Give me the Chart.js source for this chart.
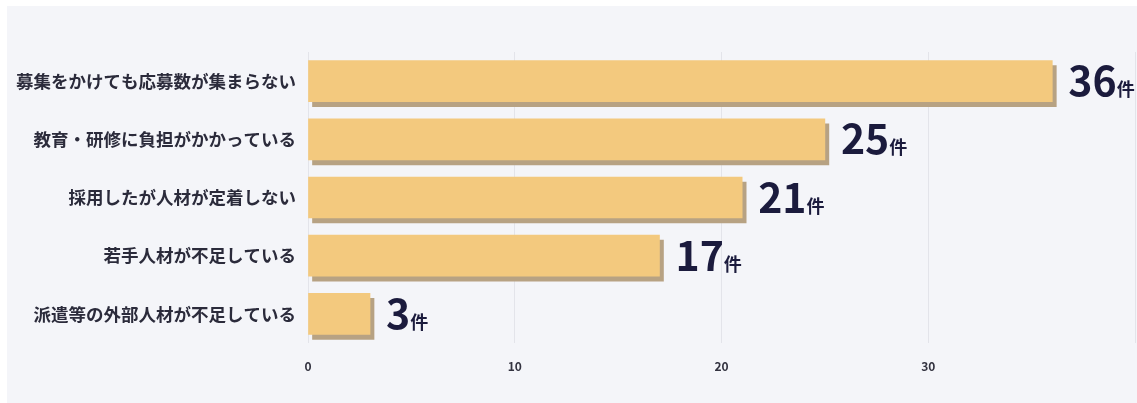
<!DOCTYPE html>
<html>
<head>
<meta charset="utf-8">
<script src="https://cdn.jsdelivr.net/npm/chart.js@4/dist/chart.umd.min.js"></script>
<style>
  html, body { margin: 0; padding: 0; background: #ffffff; }
  #wrap { position: absolute; left: 0; top: 0; width: 1137px; height: 403px; }
  #bg { position: absolute; left: 7px; top: 6px; width: 1130px; height: 397px; background: #f4f5f9; }
  canvas { position: absolute; left: 0; top: 0; }
</style>
</head>
<body>
<div id="wrap">
  <div id="bg"></div>
  <canvas id="c" width="1137" height="403"></canvas>
</div>
<script>
const categories = [
  "募集をかけても応募数が集まらない",
  "教育・研修に負担がかかっている",
  "採用したが人材が定着しない",
  "若手人材が不足している",
  "派遣等の外部人材が不足している"
];
const counts = [36, 25, 21, 17, 3];
const unitLabel = "件";
const xTicks = [0, 10, 20, 30, 40];

const JP = '"Noto Sans CJK JP", "Noto Sans", sans-serif';

const shadowPlugin = {
  id: 'barShadow',
  beforeDatasetDraw(chart) {
    const ctx = chart.ctx;
    ctx.save();
    ctx.shadowColor = '#b7a283';
    ctx.shadowOffsetX = 4;
    ctx.shadowOffsetY = 5;
    ctx.shadowBlur = 0;
  },
  afterDatasetDraw(chart) {
    chart.ctx.restore();
  }
};

const valueLabelPlugin = {
  id: 'valueLabels',
  afterDatasetsDraw(chart) {
    const ctx = chart.ctx;
    const meta = chart.getDatasetMeta(0);
    ctx.save();
    ctx.fillStyle = '#1b1b3d';
    ctx.textBaseline = 'alphabetic';
    ctx.textAlign = 'left';
    meta.data.forEach((bar, i) => {
      const txt = String(counts[i]);
      const x = bar.x + 16;
      const y = bar.y + 15;
      ctx.font = 'bold 41px ' + JP;
      ctx.fillText(txt, x, y);
      const w = ctx.measureText(txt).width;
      ctx.font = 'bold 18px ' + JP;
      ctx.fillText(unitLabel, x + w, y);
    });
    ctx.restore();
  }
};

new Chart(document.getElementById('c'), {
  type: 'bar',
  data: {
    labels: categories,
    datasets: [{
      data: counts,
      backgroundColor: '#f3c97e',
      borderWidth: 0,
      barThickness: 41
    }]
  },
  options: {
    indexAxis: 'y',
    responsive: false,
    animation: false,
    layout: { padding: { top: 52, right: 2, left: 0, bottom: 0 } },
    plugins: {
      legend: { display: false },
      tooltip: { enabled: false }
    },
    scales: {
      x: {
        min: 0,
        max: 40,
        afterBuildTicks(scale) { scale.ticks = xTicks.map(v => ({ value: v })); },
        grid: { color: '#e3e4ea', drawTicks: false, lineWidth: 1 },
        border: { display: false },
        ticks: {
          padding: 16,
          color: '#333340',
          font: { family: JP, size: 12, weight: 'bold' },
          callback: (v, i) => (v === 40 ? '' : String(v))
        },
        afterFit(scale) { scale.height = 60; scale.paddingRight = 0; scale.paddingLeft = 0; }
      },
      y: {
        grid: { display: false, drawTicks: false },
        border: { display: false },
        ticks: {
          padding: 12,
          color: '#2b2b3b',
          font: { family: JP, size: 17.5, weight: 'bold' }
        },
        afterFit(scale) { scale.width = 308; }
      }
    }
  },
  plugins: [shadowPlugin, valueLabelPlugin]
});
</script>
</body>
</html>
